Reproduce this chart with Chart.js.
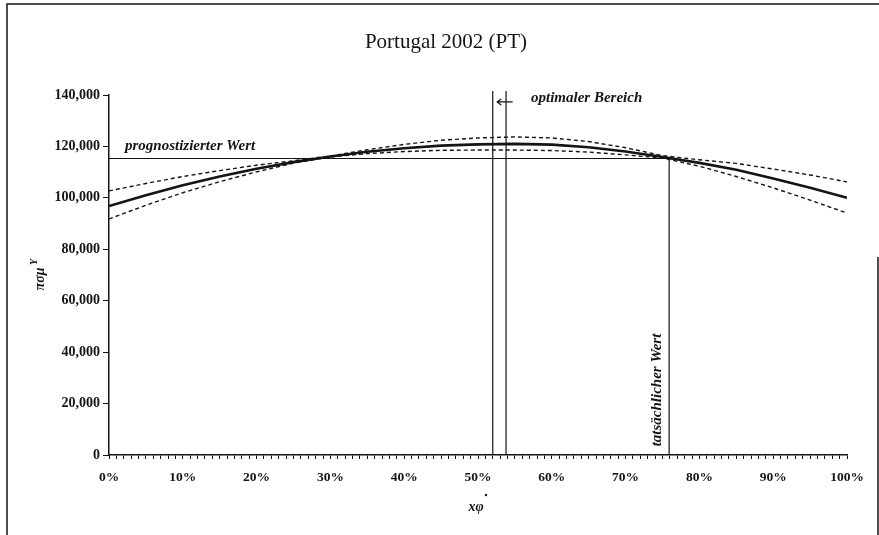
<!DOCTYPE html>
<html>
<head>
<meta charset="utf-8">
<script src="https://cdn.jsdelivr.net/npm/chart.js@4/dist/chart.umd.min.js"></script>
<style>
  html, body { margin: 0; padding: 0; background: #fff; }
  #wrap { width: 879px; height: 535px; position: relative; }
</style>
</head>
<body>
<div id="wrap"><canvas id="grafica_portugal"></canvas></div>
<script>
// x positions (share in %) and the curves
const anteil = [0, 5, 10, 15, 20, 25, 30, 35, 40, 45, 50, 55, 60, 65, 70, 75, 80, 85, 90, 95, 100];
const wert = [96800, 101000, 104900, 108300, 111300, 113900, 116100, 117900, 119300, 120300, 120800,
  121000, 120700, 119700, 118000, 115900, 113600, 110900, 107500, 103900, 100000];
const oberesBand = [102700, 105600, 108300, 110600, 112700, 114400, 116300, 118700, 120800, 122400, 123300,
  123700, 123300, 121900, 119500, 116400, 114800, 113400, 111200, 108900, 106200];
const unteresBand = [91800, 97100, 102000, 106300, 110100, 113500, 115900, 117200, 118000, 118500, 118600,
  118600, 118400, 117800, 116700, 115500, 112300, 108300, 103900, 99100, 94100];

const prognostizierterWert = 115300;
const tatsaechlicherAnteil = 75.9;
const optimalerBereich = [52.0, 53.8];
const optimalOben = 141600;
const pfeil = [54.7, 52.6, 137300];   // from, to, height

const yTicks = [0, 20000, 40000, 60000, 80000, 100000, 120000, 140000];
const xTicks = [0, 10, 20, 30, 40, 50, 60, 70, 80, 90, 100];

const pts = (xs, ys) => xs.map((x, i) => ({ x: x, y: ys[i] }));
const schwarz = '#141414';

const rahmen = {
  id: 'rahmen',
  afterDraw(chart) {
    const c = chart.ctx;
    const xs = chart.scales.x, ys = chart.scales.y;
    c.save();
    c.strokeStyle = schwarz;
    c.lineWidth = 1.5;
    c.beginPath();
    c.moveTo(7, 535); c.lineTo(7, 4); c.lineTo(879, 4);
    c.moveTo(878, 257); c.lineTo(878, 535);
    c.stroke();

    // arrow to the optimal range
    const a0 = xs.getPixelForValue(pfeil[0]);
    const a1 = xs.getPixelForValue(pfeil[1]);
    const ay = ys.getPixelForValue(pfeil[2]);
    c.lineWidth = 1.2;
    c.beginPath();
    c.moveTo(a0, ay); c.lineTo(a1, ay);
    c.moveTo(a1 + 4, ay - 3); c.lineTo(a1, ay); c.lineTo(a1 + 4, ay + 3);
    c.stroke();

    c.fillStyle = schwarz;
    c.textBaseline = 'middle';
    c.textAlign = 'center';
    c.font = '21px "Liberation Serif"';
    c.fillText('Portugal 2002 (PT)', 446, 42);

    c.textAlign = 'left';
    c.font = 'italic bold 15px "Liberation Serif"';
    c.fillText('prognostizierter Wert', 125, 146);
    c.fillText('optimaler Bereich', 531, 98);

    c.save();
    c.translate(657, 390);
    c.rotate(-Math.PI / 2);
    c.textAlign = 'center';
    c.fillText('tatsächlicher Wert', 0, 0);
    c.restore();

    // axis titles
    c.font = 'italic bold 14px "Liberation Serif"';
    c.textAlign = 'center';
    c.fillText('xφ', 476, 507);
    c.beginPath();
    c.arc(486, 495, 1.2, 0, Math.PI * 2);
    c.fill();
    c.save();
    c.translate(40, 276);
    c.rotate(-Math.PI / 2);
    c.fillText('πσμ', -3, 0);
    c.font = 'italic bold 10px "Liberation Serif"';
    c.fillText('Y', 14, -6);
    c.restore();
    c.restore();
  }
};

const ctx = document.getElementById('grafica_portugal').getContext('2d');
new Chart(ctx, {
  type: 'scatter',
  data: {
    datasets: [
      { label: 'Wert', data: pts(anteil, wert), showLine: true, borderColor: schwarz, borderWidth: 2.6, pointRadius: 0 },
      { label: 'oben', data: pts(anteil, oberesBand), showLine: true, borderColor: schwarz, borderWidth: 1.4, borderDash: [4, 3], pointRadius: 0 },
      { label: 'unten', data: pts(anteil, unteresBand), showLine: true, borderColor: schwarz, borderWidth: 1.4, borderDash: [4, 3], pointRadius: 0 },
      { label: 'prognostizierter Wert', data: [{ x: 0, y: prognostizierterWert }, { x: tatsaechlicherAnteil, y: prognostizierterWert }],
        showLine: true, borderColor: schwarz, borderWidth: 1.2, pointRadius: 0 },
      { label: 'tatsächlicher Wert', data: [{ x: tatsaechlicherAnteil, y: 0 }, { x: tatsaechlicherAnteil, y: prognostizierterWert }],
        showLine: true, borderColor: schwarz, borderWidth: 1.2, pointRadius: 0 },
      { label: 'opt1', data: [{ x: optimalerBereich[0], y: 0 }, { x: optimalerBereich[0], y: optimalOben }],
        showLine: true, borderColor: schwarz, borderWidth: 1.2, pointRadius: 0, clip: false },
      { label: 'opt2', data: [{ x: optimalerBereich[1], y: 0 }, { x: optimalerBereich[1], y: optimalOben }],
        showLine: true, borderColor: schwarz, borderWidth: 1.2, pointRadius: 0, clip: false }
    ]
  },
  options: {
    responsive: true,
    maintainAspectRatio: false,
    animation: false,
    layout: { padding: { top: 95, right: 32, bottom: 0, left: 0 } },
    plugins: { legend: { display: false }, tooltip: { enabled: false } },
    scales: {
      x: {
        type: 'linear', min: 0, max: 100,
        afterFit: s => { s.height = 80; },
        afterBuildTicks: s => { s.ticks = Array.from({ length: 101 }, (_, i) => ({ value: i })); },
        ticks: {
          autoSkip: false, maxRotation: 0, padding: 10, color: schwarz,
          font: { family: '"Liberation Serif"', size: 13.5, weight: 'bold' },
          callback: v => xTicks.includes(v) ? v + '%' : ''
        },
        grid: { drawOnChartArea: false, tickLength: 4, color: schwarz, lineWidth: 1 },
        border: { color: schwarz, width: 1.5 }
      },
      y: {
        min: 0, max: 140000,
        afterFit: s => { s.width = 109; },
        afterBuildTicks: s => { s.ticks = yTicks.map(v => ({ value: v })); },
        ticks: {
          padding: 3, color: schwarz,
          font: { family: '"Liberation Serif"', size: 14, weight: 'bold' },
          callback: v => v.toLocaleString('en-US')
        },
        grid: { drawOnChartArea: false, tickLength: 6, color: schwarz, lineWidth: 1 },
        border: { color: schwarz, width: 1.5 }
      }
    }
  },
  plugins: [rahmen]
});
</script>
</body>
</html>
